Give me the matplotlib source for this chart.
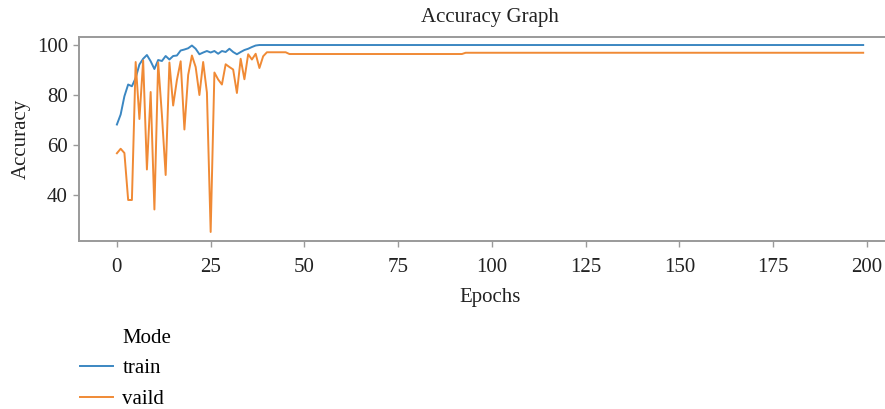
import matplotlib
matplotlib.use("Agg")
import matplotlib.pyplot as plt
from matplotlib.lines import Line2D
import numpy as np

plt.rcParams['font.family'] = ['Liberation Serif', 'DejaVu Serif']

# values
train_early = [68.2, 72.2, 79.5, 84.2, 83.5, 86.8, 92.2, 94.5, 96.0, 93.5,
               90.4, 94.0, 93.6, 95.6, 94.2, 95.6, 95.8, 97.8, 98.2, 98.7,
               99.8, 98.5, 96.3, 97.0, 97.6, 97.0, 97.6, 96.5, 97.6, 97.2,
               98.5, 97.2, 96.3, 97.2, 98.0, 98.5, 99.2, 99.8]
train_late = [100.0] * 162          # flat at 100 from epoch 38 on

valid_early = [56.7, 58.5, 56.8, 38.0, 38.0, 93.2, 70.4, 93.8, 50.2, 81.2,
               34.2, 93.0, 72.0, 48.0, 93.0, 75.8, 86.0, 93.5, 66.2, 88.0,
               95.8, 91.2, 80.0, 93.2, 81.0, 25.2, 89.0, 86.2, 84.2, 92.3,
               91.2, 90.2, 80.8, 94.5, 86.3, 96.3, 94.2, 96.5, 90.8, 95.5]
valid_mid1 = [97.1] * 6             # epochs 40-45
valid_mid2 = [96.4] * 47            # epochs 46-92
valid_late = [96.9] * 107           # epochs 93-199

train = train_early + train_late
valid = valid_early + valid_mid1 + valid_mid2 + valid_late
epochs = np.arange(len(train))

xticks = [0, 25, 50, 75, 100, 125, 150, 175, 200]
yticks = [40, 60, 80, 100]

fs = 15
fig = plt.figure(figsize=(8.85, 4.09), dpi=100)
ax = fig.add_axes([0.0893, 0.4108, 0.928, 0.4987])

l1, = ax.plot(epochs, train, color='#3b87c2', lw=1.4)
l2, = ax.plot(epochs, valid, color='#f08a35', lw=1.4)

ax.set_xlim(-10.1, 208.9)
ax.set_ylim(21.6, 103.2)
ax.set_xticks(xticks)
ax.set_yticks(yticks)

for s in ax.spines.values():
    s.set_color('#9a9a9a')
    s.set_linewidth(1.4)
# the original is cropped on the right: spines run off the edge, no right spine
ax.spines['right'].set_visible(False)
ax.spines['top'].set_bounds(-10.1, 205.5)
ax.spines['bottom'].set_bounds(-10.1, 205.5)
ax.tick_params(colors='#9a9a9a', labelcolor='#222222', labelsize=fs, length=4, width=1)
ax.tick_params(axis='x', pad=8)
ax.tick_params(axis='y', pad=4)

ax.set_title('Accuracy Graph', fontsize=fs, color='#222222', pad=11)
ax.set_xlabel('Epochs', fontsize=fs, color='#222222', labelpad=8)
ax.set_ylabel('Accuracy', fontsize=fs, color='#222222', labelpad=4)

blank = Line2D([], [], alpha=0)
fig.legend([blank, l1, l2], ['Mode', 'train', 'vaild'],
           loc='upper left', bbox_to_anchor=(0.0787, 0.2235),
           frameon=False, fontsize=fs, handlelength=1.6,
           handletextpad=0.43, labelspacing=0.54, borderpad=0)

fig.savefig('out.png', dpi=100)
